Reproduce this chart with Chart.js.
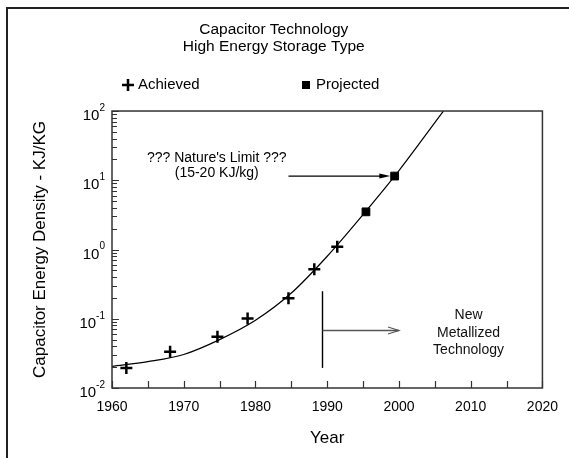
<!DOCTYPE html>
<html>
<head>
<meta charset="utf-8">
<script src="https://cdn.jsdelivr.net/npm/chart.js@4.4.1/dist/chart.umd.min.js"></script>
<style>
  html, body { margin: 0; padding: 0; background: #fff; }
  #wrap { width: 569px; height: 458px; position: relative; }
</style>
</head>
<body>
<div id="wrap"><canvas id="myChart"></canvas></div>
<script>
// fitted trend line
const fitYears = [1960, 1965, 1970, 1975, 1980, 1985, 1990, 1995, 2000, 2005, 2006.2];
const fitValues = [0.0205, 0.024, 0.0305, 0.05, 0.095, 0.235, 0.8, 3.2, 13.8, 68, 100];

// measured points
const achievedYears = [1962, 1968.1, 1974.7, 1978.9, 1984.6, 1988.2, 1991.4];
const achievedValues = [0.0195, 0.0335, 0.055, 0.101, 0.197, 0.52, 1.1];

// projected points
const projectedYears = [1995.4, 1999.4];
const projectedValues = [3.5, 11.5];

const xTickYears = [1960, 1970, 1980, 1990, 2000, 2010, 2020];
const xMinorYears = [1965, 1975, 1985, 1995, 2005, 2015];
const yTickExponents = [-2, -1, 0, 1, 2];

const FONT = "'Liberation Sans', Arial, sans-serif";

function toPoints(xs, ys) {
    return xs.map((x, i) => ({ x: x, y: ys[i] }));
}

function arrowHead(ctx, x, y, len, half, filled) {
    ctx.beginPath();
    ctx.moveTo(x - len, y - half);
    ctx.lineTo(x, y);
    ctx.lineTo(x - len, y + half);
    if (filled) {
        ctx.closePath();
        ctx.fill();
    } else {
        ctx.stroke();
    }
}

const decorations = {
    id: 'decorations',
    beforeDraw(chart) {
        const ctx = chart.ctx;
        ctx.save();
        // outer frame (top + left)
        ctx.strokeStyle = '#222';
        ctx.lineWidth = 2;
        ctx.beginPath();
        ctx.moveTo(569, 8);
        ctx.lineTo(7, 8);
        ctx.lineTo(7, 458);
        ctx.stroke();
        ctx.restore();
    },
    afterDatasetsDraw(chart) {
        const ctx = chart.ctx;
        const area = chart.chartArea;
        const xs = chart.scales.x;
        const ys = chart.scales.y;
        ctx.save();

        // plot box
        ctx.strokeStyle = '#333';
        ctx.lineWidth = 1.5;
        ctx.strokeRect(area.left, area.top, area.right - area.left, area.bottom - area.top);

        // x ticks pointing inward
        ctx.lineWidth = 1.2;
        ctx.beginPath();
        xTickYears.concat(xMinorYears).forEach(yr => {
            const px = Math.round(xs.getPixelForValue(yr)) + 0.5;
            ctx.moveTo(px, area.bottom);
            ctx.lineTo(px, area.bottom - 7);
        });
        // y ticks (decades and minor)
        yTickExponents.forEach(e => {
            for (let m = 1; m <= 9; m++) {
                const v = m * Math.pow(10, e);
                if (v > 100.0001) break;
                const py = Math.round(ys.getPixelForValue(v)) + 0.5;
                ctx.moveTo(area.left, py);
                ctx.lineTo(area.left + (m === 1 ? 7 : 5), py);
            }
        });
        ctx.stroke();

        // y tick labels 10^n
        ctx.fillStyle = '#000';
        ctx.textBaseline = 'middle';
        yTickExponents.forEach(e => {
            const py = ys.getPixelForValue(Math.pow(10, e));
            const exp = String(e);
            ctx.font = '10px ' + FONT;
            const ew = ctx.measureText(exp).width;
            ctx.textAlign = 'left';
            ctx.fillText(exp, 105 - ew, py - 3);
            ctx.font = '15px ' + FONT;
            ctx.textAlign = 'right';
            ctx.fillText('10', 105 - ew, py + 5);
        });

        // legend
        ctx.strokeStyle = '#000';
        ctx.lineWidth = 2.5;
        ctx.beginPath();
        ctx.moveTo(122, 85); ctx.lineTo(134, 85);
        ctx.moveTo(128, 79); ctx.lineTo(128, 91);
        ctx.stroke();
        ctx.fillRect(302, 81, 8, 8);
        ctx.font = '15px ' + FONT;
        ctx.textAlign = 'left';
        ctx.fillText('Achieved', 138, 85);
        ctx.fillText('Projected', 316, 85);

        // nature's limit note + arrow
        ctx.font = '14px ' + FONT;
        ctx.textAlign = 'center';
        const nx = xs.getPixelForValue(1974.6);
        const ny = ys.getPixelForValue(21);
        ctx.fillText("??? Nature's Limit ???", nx, ny);
        ctx.fillText('(15-20 KJ/kg)', nx, ny + 15);
        const ay = ys.getPixelForValue(projectedValues[1]);
        const ax0 = xs.getPixelForValue(1984.6);
        const ax1 = xs.getPixelForValue(1998.8);
        ctx.lineWidth = 1.2;
        ctx.beginPath();
        ctx.moveTo(ax0, ay);
        ctx.lineTo(ax1 - 8, ay);
        ctx.stroke();
        arrowHead(ctx, ax1, ay, 11, 2.5, true);

        // new metallized technology marker
        const vx = Math.round(xs.getPixelForValue(1989.25)) + 0.5;
        ctx.lineWidth = 1.4;
        ctx.beginPath();
        ctx.moveTo(vx, ys.getPixelForValue(0.25));
        ctx.lineTo(vx, ys.getPixelForValue(0.0195));
        ctx.stroke();
        const my = Math.round(ys.getPixelForValue(0.0687)) + 0.5;
        const mx1 = xs.getPixelForValue(2000);
        ctx.strokeStyle = '#555';
        ctx.lineWidth = 1.5;
        ctx.beginPath();
        ctx.moveTo(vx, my);
        ctx.lineTo(mx1, my);
        ctx.stroke();
        ctx.lineWidth = 1.2;
        arrowHead(ctx, mx1, my, 11, 3.5, false);

        ctx.fillStyle = '#111';
        const tx = xs.getPixelForValue(2009.7);
        ctx.fillText('New', tx, 315);
        ctx.fillText('Metallized', tx, 333);
        ctx.fillText('Technology', tx, 350);

        ctx.restore();
    }
};

const ctx = document.getElementById('myChart').getContext('2d');
const myChart = new Chart(ctx, {
    type: 'scatter',
    data: {
        datasets: [{
            label: 'Fit',
            data: toPoints(fitYears, fitValues),
            showLine: true,
            borderColor: '#000',
            borderWidth: 1.2,
            pointRadius: 0,
            cubicInterpolationMode: 'monotone',
            fill: false
        }, {
            label: 'Achieved',
            data: toPoints(achievedYears, achievedValues),
            pointStyle: 'cross',
            pointRadius: 6,
            borderColor: '#000',
            borderWidth: 2.5,
            showLine: false
        }, {
            label: 'Projected',
            data: toPoints(projectedYears, projectedValues),
            pointStyle: 'rect',
            pointRadius: 5.5,
            backgroundColor: '#000',
            borderColor: '#000',
            borderWidth: 1,
            showLine: false
        }]
    },
    options: {
        responsive: true,
        maintainAspectRatio: false,
        animation: false,
        events: [],
        layout: { padding: { left: 0, right: 21.5, top: 0, bottom: 0 } },
        plugins: {
            legend: { display: false },
            tooltip: { enabled: false },
            title: {
                display: true,
                text: ['Capacitor Technology', 'High Energy Storage Type'],
                color: '#000',
                font: { family: FONT, size: 15.5, weight: 'normal', lineHeight: 1.12 },
                padding: { top: 21, bottom: 55.3 }
            }
        },
        scales: {
            x: {
                type: 'linear',
                min: 1960,
                max: 2020,
                afterBuildTicks: (scale) => { scale.ticks = xTickYears.map(v => ({ value: v })); },
                grid: { display: false, drawTicks: false },
                border: { display: false },
                ticks: {
                    color: '#000',
                    padding: 11,
                    font: { family: FONT, size: 14 },
                    maxRotation: 0,
                    callback: (v) => String(v)
                },
                title: {
                    display: true,
                    text: 'Year',
                    color: '#000',
                    font: { family: FONT, size: 17 },
                    padding: { top: 0, bottom: 9 }
                },
                afterFit: (scale) => { scale.height = 70; }
            },
            y: {
                type: 'logarithmic',
                min: 0.01,
                max: 100,
                grid: { display: false, drawTicks: false },
                border: { display: false },
                ticks: { display: false },
                title: {
                    display: true,
                    text: 'Capacitor Energy Density - KJ/KG',
                    color: '#000',
                    font: { family: FONT, size: 17 },
                    padding: { top: 30, bottom: 0 }
                },
                afterFit: (scale) => { scale.width = 112; }
            }
        }
    },
    plugins: [decorations]
});
</script>
</body>
</html>
